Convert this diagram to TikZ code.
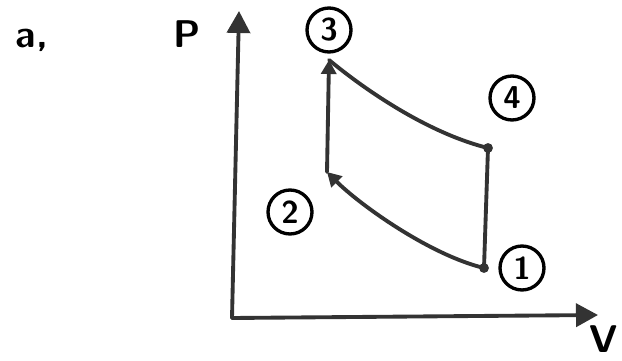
\documentclass[tikz,border=0pt]{standalone}
\usetikzlibrary{arrows.meta}
\definecolor{ink}{HTML}{333333}
\tikzset{
  stroke/.style={ink,line width=2.2pt,line cap=round,line join=round},
  axis/.style={stroke,-{Triangle[length=4.4mm,width=4.6mm]}},
  flow/.style={stroke,-{Triangle[length=2.8mm,width=3mm]}},
  state/.style={circle,draw=black,line width=1.9pt,inner sep=1pt,minimum size=8.8mm,font=\sffamily\bfseries\fontsize{18}{18}\selectfont},
  lbl/.style={font=\sffamily\bfseries\fontsize{22}{22}\selectfont}
}
\begin{document}
\begin{tikzpicture}[x=.02cm,y=-.02cm]
\useasboundingbox (0,0) rectangle (622,361);
% axes
\coordinate (O) at (232,318);
\coordinate (Ptop) at (239,11);
\coordinate (Vend) at (598,315);
\draw[axis] (O)--(Ptop);
\draw[axis] (O)--(Vend);
\node[lbl] (P) at (187,34){P};
\node[lbl] (V) at (604,339){V};
\node[lbl] (a) at (32,40){a,};
% cycle
\coordinate (p1) at (484,268);
\coordinate (p2) at (327,172);
\coordinate (p3) at (329,60);
\coordinate (p4) at (488,148);
\draw[flow] (p1) .. controls (430,255) and (360,205) .. (p2);
\draw[flow] (p2)--(p3);
\draw[stroke] (p3) .. controls (375,98) and (435,135) .. (p4);
\draw[stroke] (p4)--(p1);
\fill[ink] (p4) circle (2.8pt) (p1) circle (2.8pt);
% state labels
\node[state] (s1) at (522,268){1};
\node[state] (s2) at (290,212){2};
\node[state] (s3) at (329,30){3};
\node[state] (s4) at (512,98){4};
\end{tikzpicture}
\end{document}
